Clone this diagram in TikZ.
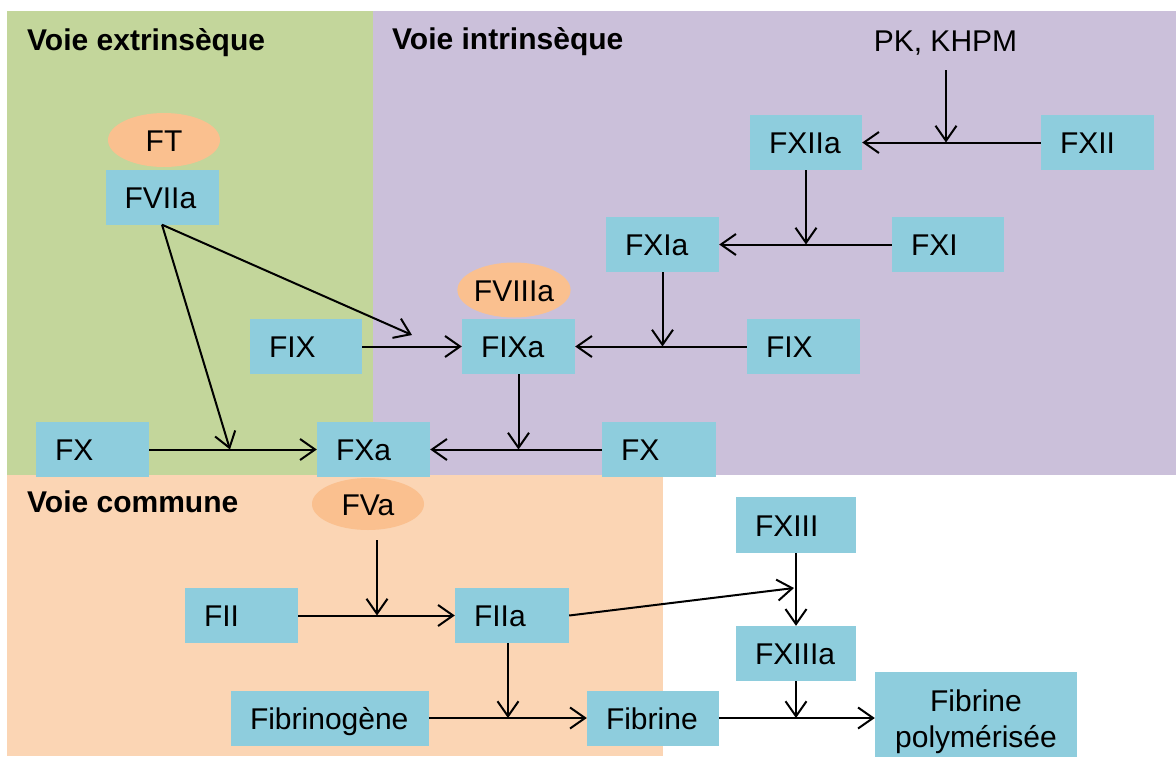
\documentclass[tikz,border=0pt]{standalone}
\usepackage{fontspec}
\setmainfont{Liberation Sans}
\usetikzlibrary{arrows.meta,shapes.geometric}
\definecolor{cgreen}{HTML}{C3D69B}
\definecolor{cpurple}{HTML}{CBC0DA}
\definecolor{corange}{HTML}{FBD5B4}
\definecolor{cbox}{HTML}{8ECDDD}
\definecolor{cell}{HTML}{FAC08F}
\begin{document}
\begin{tikzpicture}[x=1pt,y=-1pt,
  every node/.style={font=\fontsize{30}{36}\selectfont},
  fbox/.style={fill=cbox, draw=none, rectangle, inner xsep=19pt, inner ysep=0pt,
    minimum height=55pt, text height=22pt, text depth=0pt, align=left, text width=#1},
  fell/.style={fill=cell, ellipse, inner sep=0pt, minimum width=112pt,
    minimum height=54pt, text height=22pt, text depth=0pt},
  zonetitle/.style={font=\fontsize{30}{36}\selectfont\bfseries, anchor=base west, inner sep=0pt},
  conn/.style={line width=2pt, -{Straight Barb[length=15pt,width=21pt,line width=2pt]}}
]
\useasboundingbox (0,0) rectangle (1176,756);
% zones
\fill[cgreen] (7,11) rectangle (373,475);
\fill[cpurple] (373,11) rectangle (1176,475);
\fill[corange] (7,475) rectangle (663,756);
% titles
\node[zonetitle] (text) at (27,50) {Voie extrinsèque};
\node[zonetitle] (tint) at (392,49) {Voie intrinsèque};
\node[zonetitle] (tcom) at (27,512) {Voie commune};
% nodes
\node[fbox=75pt] (fviia) at (162,197) {FVIIa};
\node[fell] (ft) at (164,140) {FT};
\node[fbox=74pt] (fixl) at (306,346.5) {FIX};
\node[fbox=75pt] (fxl) at (92.5,449.5) {FX};
\node[fbox=75pt] (fxa) at (373.5,449.5) {FXa};
\node[fbox=75pt] (fixa) at (518.5,346.5) {FIXa};
\node[fell, minimum height=55pt] (fviiia) at (514,290) {FVIIIa};
\node[fbox=76pt] (fxr) at (659,449.5) {FX};
\node[fbox=75pt] (fixr) at (803.5,346.5) {FIX};
\node[fbox=75pt] (fxia) at (662.5,244.5) {FXIa};
\node[fbox=74pt] (fxi) at (948,244.5) {FXI};
\node[fbox=74pt] (fxiia) at (806,142.5) {FXIIa};
\node[fbox=75pt] (fxii) at (1097.5,142.5) {FXII};
\node[inner sep=0pt, text height=22pt, text depth=0pt] (pk) at (945.5,40) {PK, KHPM};
\node[fell, minimum height=52pt] (fva) at (368,504) {FVa};
\node[fbox=75pt] (fii) at (241.5,615.5) {FII};
\node[fbox=76pt] (fiia) at (512,615.5) {FIIa};
\node[fbox=160pt] (fbg) at (330,718) {Fibrinogène};
\node[fbox=94pt] (fib) at (653,718) {Fibrine};
\node[fbox=82pt, minimum height=56pt] (fxiii) at (796,525) {FXIII};
\node[fbox=82pt] (fxiiia) at (796,653.5) {FXIIIa};
\node[fbox=164pt, align=center, minimum height=92pt, text depth=36pt] (fpol) at (976,718) {Fibrine\\polymérisée};
% junction points
\coordinate (j1) at (946,142.5);
\coordinate (j2) at (806,244.5);
\coordinate (j3) at (662.5,346.5);
\coordinate (t1) at (412,335);
\coordinate (j4) at (230,449.5);
\coordinate (j5) at (518.5,449.5);
\coordinate (j6) at (377,615.5);
\coordinate (t2) at (794,588);
\coordinate (j7) at (508,718);
\coordinate (j8) at (796,718);
% connectors
\draw[conn] (fxii) -- (fxiia);
\draw[conn] ([yshift=-19pt]pk.south -| j1) -- (j1);
\draw[conn] (fxiia.south) -- (j2);
\draw[conn] (fxi) -- (fxia);
\draw[conn] (fxia.south) -- (j3);
\draw[conn] (fixr) -- (fixa);
\draw[conn] (fixl) -- (fixa);
\draw[conn] (fviia.south) -- (t1);
\draw[conn] (fviia.south) -- (j4);
\draw[conn] (fxl) -- (fxa);
\draw[conn] (fxr) -- (fxa);
\draw[conn] (fixa.south) -- (j5);
\draw[conn] ([yshift=-10pt]fva.south -| j6) -- (j6);
\draw[conn] (fii) -- (fiia);
\draw[conn] (fiia.east) -- (t2);
\draw[conn] (fxiii) -- (fxiiia);
\draw[conn] (fiia.south -| j7) -- (j7);
\draw[conn] (fbg) -- (fib);
\draw[conn] (fxiiia.south) -- (j8);
\draw[conn] (fib.east) -- (fib.east -| fpol.west);
\end{tikzpicture}
\end{document}
